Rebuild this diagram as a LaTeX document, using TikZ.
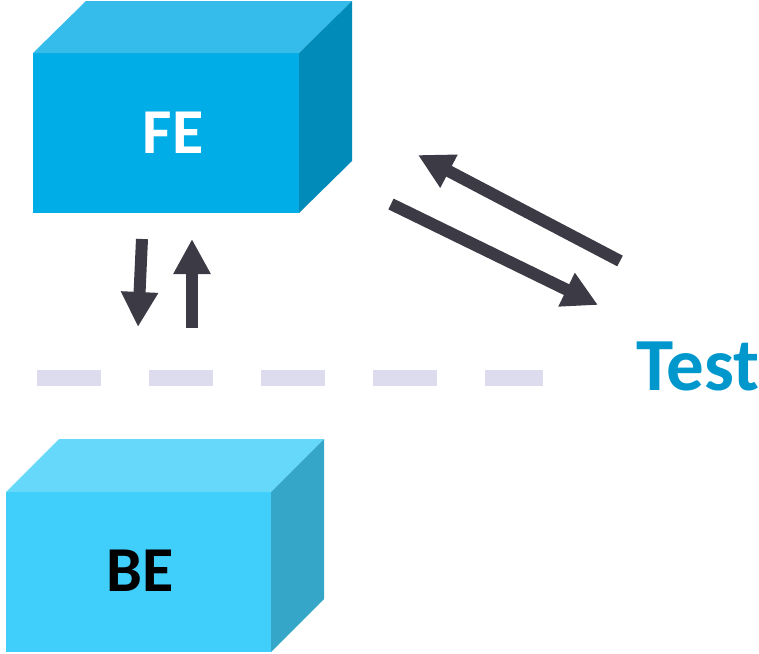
\documentclass[tikz,border=0pt]{standalone}
\usepackage{fontspec}
\setmainfont{Carlito}
\usetikzlibrary{arrows.meta}
\definecolor{feFront}{RGB}{0,173,230}
\definecolor{feTop}{RGB}{53,188,235}
\definecolor{feSide}{RGB}{0,139,185}
\definecolor{beFront}{RGB}{64,206,250}
\definecolor{beTop}{RGB}{102,216,250}
\definecolor{beSide}{RGB}{53,166,200}
\definecolor{arrowgray}{RGB}{60,59,69}
\definecolor{testblue}{RGB}{0,152,204}
\definecolor{dashcol}{RGB}{221,220,238}
\tikzset{
  frontface/.style={draw=none, rectangle, inner sep=0pt, outer sep=0pt},
  bigarrow/.style={draw=arrowgray, line width=12pt, -{Triangle[length=35pt,width=35pt]}},
  labeltext/.style={inner sep=0pt, font=\fontsize{64}{64}\selectfont\bfseries},
}
\begin{document}
\begin{tikzpicture}[x=1pt,y=-1pt]
\useasboundingbox (0,0) rectangle (759,653);
% FE box
\node[frontface, fill=feFront, minimum width=266pt, minimum height=160pt] (fe) at (166,133) {};
\fill[feTop] (fe.north west) -- (fe.north east) -- ++(53,-52) -- ++(-266,0) -- cycle;
\fill[feSide] (fe.north east) -- ++(53,-52) -- ++(0,160) -- (fe.south east) -- cycle;
\node[labeltext, text=white] (felabel) at (173,133) {FE};
% BE box
\node[frontface, fill=beFront, minimum width=265pt, minimum height=160pt] (be) at (138.5,572) {};
\fill[beTop] (be.north west) -- (be.north east) -- ++(53,-53) -- ++(-265,0) -- cycle;
\fill[beSide] (be.north east) -- ++(53,-53) -- ++(0,160) -- (be.south east) -- cycle;
\node[labeltext, text=black] (belabel) at (140,571) {BE};
% dashed separator
\coordinate (dashstart) at (37,378);
\coordinate (dashend) at (543,378);
\draw[dashcol, line width=16pt, dash pattern=on 64pt off 48pt] (dashstart) -- (dashend);
% Test label
\node[inner sep=0pt, anchor=base west, text=testblue, font=\fontsize{75}{75}\selectfont\bfseries] (test) at (636,390) {Test};
% vertical arrows
\coordinate (downA) at (142,239);
\coordinate (downB) at (138,327);
\coordinate (upA) at (192,328);
\coordinate (upB) at (192,239);
\draw[bigarrow] (downA) -- (downB);
\draw[bigarrow] (upA) -- (upB);
% diagonal arrows
\coordinate (diagA) at (391,204);
\coordinate (diagB) at (598,305);
\coordinate (diagC) at (620,261);
\coordinate (diagD) at (418,155);
\draw[bigarrow] (diagA) -- (diagB);
\draw[bigarrow] (diagC) -- (diagD);
\end{tikzpicture}
\end{document}
